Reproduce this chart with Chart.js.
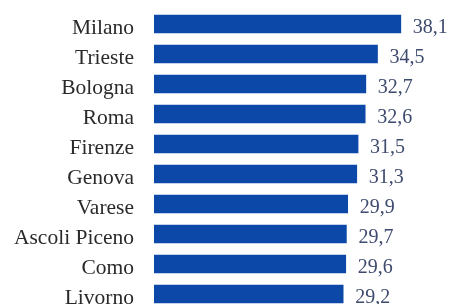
<!DOCTYPE html>
<html>
<head>
<meta charset="utf-8">
<script src="https://cdn.jsdelivr.net/npm/chart.js@4"></script>
<style>
html,body{margin:0;padding:0;background:#fff;overflow:hidden;}
#wrap{position:absolute;left:0;top:0;width:452px;height:310px;}
</style>
</head>
<body>
<div id="wrap"><canvas id="c" width="452" height="310"></canvas></div>
<script>
const cities = ["Milano","Trieste","Bologna","Roma","Firenze","Genova","Varese","Ascoli Piceno","Como","Livorno"];
const values = [38.1,34.5,32.7,32.6,31.5,31.3,29.9,29.7,29.6,29.2];
const valueLabels = ["38,1","34,5","32,7","32,6","31,5","31,3","29,9","29,7","29,6","29,2"];

const valuePlugin = {
  id: 'valueLabels',
  afterDatasetsDraw(chart) {
    const ctx = chart.ctx;
    const meta = chart.getDatasetMeta(0);
    ctx.save();
    ctx.font = '20px "Liberation Serif", "Times New Roman", serif';
    ctx.fillStyle = '#3e4b6e';
    ctx.textAlign = 'left';
    ctx.textBaseline = 'middle';
    meta.data.forEach((bar, i) => {
      ctx.fillText(valueLabels[i], bar.x + 12, bar.y + 3.5);
    });
    ctx.restore();
  }
};

new Chart(document.getElementById('c'), {
  type: 'bar',
  data: {
    labels: cities,
    datasets: [{
      data: values,
      backgroundColor: '#0c48a7',
      borderWidth: 0,
      barThickness: 18,
      categoryPercentage: 1
    }]
  },
  options: {
    indexAxis: 'y',
    responsive: false,
    animation: false,
    devicePixelRatio: 1,
    layout: { padding: { top: 9, bottom: 1, left: 0, right: 0 } },
    plugins: { legend: { display: false }, tooltip: { enabled: false } },
    scales: {
      x: { display: false, min: 0, max: 46 },
      y: {
        afterFit(s) { s.width = 154; s.paddingTop = 0; s.paddingBottom = 0; },
        grid: { display: false, drawTicks: false },
        border: { display: false },
        ticks: {
          padding: 20,
          labelOffset: 4,
          color: '#2a2a2a',
          font: { family: '"Liberation Serif", "Times New Roman", serif', size: 21.5 }
        }
      }
    }
  },
  plugins: [valuePlugin]
});
</script>
</body>
</html>
